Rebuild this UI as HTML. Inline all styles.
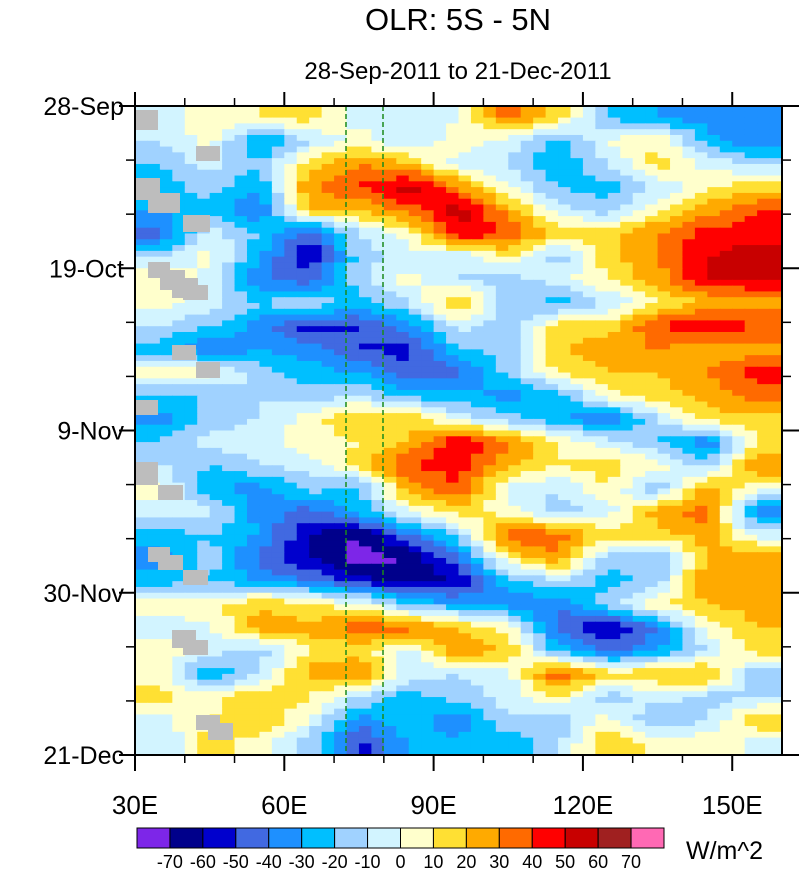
<!DOCTYPE html>
<html><head><meta charset="utf-8"><style>
body{margin:0;background:#fff;}
svg{display:block;font-family:"Liberation Sans",sans-serif;}
</style></head><body>
<svg id="chart" width="801" height="869" viewBox="0 0 801 869">
<text x="458" y="30" font-size="31" text-anchor="middle">OLR: 5S - 5N</text>
<text x="458" y="79" font-size="24" text-anchor="middle">28-Sep-2011 to 21-Dec-2011</text>
<g id="cells"></g>
<g id="missing"></g>
<line x1="346" y1="106" x2="346" y2="755" stroke="#1a8a1a" stroke-width="1.5" stroke-dasharray="5,3"/>
<line x1="383" y1="106" x2="383" y2="755" stroke="#1a8a1a" stroke-width="1.5" stroke-dasharray="5,3"/>
<rect x="135" y="106" width="647" height="649" fill="none" stroke="#000" stroke-width="2"/>
<g id="axes"></g>
<g id="cbar"></g>
<text x="686" y="859" font-size="25">W/m^2</text>
</svg>
<script>
const lons = [35,45,55,65,75,85,95,105,115,125,135,145,155];
const xTickLabels = ["30E","60E","90E","120E","150E"];
const xTickValues = [30,60,90,120,150];
const yTickLabels = ["28-Sep","19-Oct","9-Nov","30-Nov","21-Dec"];
const yTickDays = [0,21,42,63,84];
const levels = [-70,-60,-50,-40,-30,-20,-10,0,10,20,30,40,50,60,70];
const colors = ["#7d26e8","#00008b","#0000cd","#4169e1","#1e90ff","#00bfff","#a0d2ff","#d2f4ff","#ffffcc","#ffe033","#ffaa00","#ff6a00","#ff0000","#c80000","#a02020","#ff69b4"];
const r00=[-5,5,10,15,-5,-5,0,35,15,-20,-30,-35,-40];
const r01=[-10,5,-35,-10,5,-10,5,-5,-25,0,10,-25,-40];
const r02=[-20,-5,-20,15,30,20,-5,-10,-30,-10,15,-5,-10];
const r03=[-25,-15,-30,30,40,55,30,0,-20,-25,-10,10,15];
const r04=[-30,-25,-40,20,20,35,55,25,-5,-15,10,25,40];
const r05=[-45,-5,-20,-50,-10,5,50,40,15,15,30,45,45];
const r06=[-10,5,-30,-60,-15,-5,-10,10,-15,15,30,50,55];
const r07=[10,-5,-40,-45,-15,5,-10,-15,-5,10,25,50,50];
const r08=[5,-5,-20,-10,-25,-10,25,-15,-25,-10,10,20,25];
const r09=[-10,-20,-35,-55,-50,-35,-5,-20,15,15,40,50,40];
const r10=[-25,-40,-30,-35,-50,-55,-20,-15,20,25,30,20,25];
const r11=[5,5,-15,-25,-30,-45,-45,-15,10,20,20,30,45];
const r12=[-20,-20,-10,-15,-10,-25,-25,-35,-25,5,15,25,35];
const r13=[-35,-15,-10,5,20,20,-5,-15,-30,-40,-10,15,15];
const r14=[-20,-5,-5,5,10,20,50,30,10,-5,-20,-40,10];
const r15=[-10,-20,-10,-5,15,40,45,25,10,15,5,-15,30];
const r16=[5,-30,-35,-15,-25,25,40,-5,-10,10,-20,25,5];
const r17=[-5,-5,-35,-45,-25,0,15,5,-15,-5,25,35,-40];
const r18=[-25,-20,-30,-60,-70,-40,-15,40,35,15,15,25,-5];
const r19=[-35,-15,-45,-60,-75,-70,-40,10,30,-15,-20,20,30];
const r20=[-25,-20,-30,-40,-55,-65,-60,-25,-10,-25,-15,30,20];
const r21=[10,5,20,10,5,-20,-30,-35,-40,-15,10,20,25];
const r22=[-10,0,25,25,35,35,20,5,-45,-60,-40,5,20];
const r23=[10,-5,-15,10,15,-5,30,20,-25,-45,-30,-10,15];
const r24=[5,-30,-10,25,30,-5,-10,-5,40,15,20,25,-20];
const r25=[15,5,20,10,-10,-25,-15,-5,10,-15,-5,-15,-10];
const r26=[-5,10,20,0,-35,-20,-40,-10,-20,5,-20,-10,20];
const r27=[-10,15,5,-15,-55,-30,-25,-30,-10,20,5,10,-5];
const olr=[r00,r01,r02,r03,r04,r05,r06,r07,r08,r09,r10,r11,r12,r13,r14,r15,r16,r17,r18,r19,r20,r21,r22,r23,r24,r25,r26,r27];
const rowDays = 3;

const NS="http://www.w3.org/2000/svg";
const X0=135,X1=782,Y0=106,Y1=755,LON0=30,LON1=160,DAYS=84;
function xScale(lon){return X0+(lon-LON0)/(LON1-LON0)*(X1-X0);}
function yScale(day){return Y0+day/DAYS*(Y1-Y0);}
function colorFor(v){let k=0;while(k<levels.length&&v>=levels[k])k++;return colors[k];}
function mk(tag,attrs,parent){const e=document.createElementNS(NS,tag);for(const k in attrs)e.setAttribute(k,attrs[k]);parent.appendChild(e);return e;}

const nR=olr.length,nC=lons.length;
function sample(lon,day){
  let fc=(lon-lons[0])/10; let fr=(day-rowDays/2)/rowDays;
  fc=Math.max(0,Math.min(nC-1,fc)); fr=Math.max(0,Math.min(nR-1,fr));
  const c0=Math.floor(fc),r0=Math.floor(fr),c1=Math.min(nC-1,c0+1),r1=Math.min(nR-1,r0+1);
  const tc=fc-c0,tr=fr-r0;
  const a=olr[r0][c0]*(1-tc)+olr[r0][c1]*tc, b=olr[r1][c0]*(1-tc)+olr[r1][c1]*tc;
  return a*(1-tr)+b*tr;
}
const cells=document.getElementById('cells');
const sub=4, dLon=10/sub, dDay=rowDays/sub;
for(let day=0;day<DAYS-1e-6;day+=dDay){
  for(let lon=LON0;lon<LON1-1e-6;lon+=dLon){
    const v=sample(lon+dLon/2,day+dDay/2);
    const x=xScale(lon),y=yScale(day);
    const r=mk('rect',{x:x.toFixed(2),y:y.toFixed(2),width:(xScale(lon+dLon)-x+0.6).toFixed(2),height:(yScale(day+dDay)-y+0.6).toFixed(2),fill:colorFor(v)},cells);
    
    
  }
}
const miss=[[135,110,23,20],[196,146,24,15],[135,178,25,22],[148,193,32,20],[183,215,27,17],[148,262,22,16],[160,270,25,20],[172,278,26,20],[183,285,25,15],[172,345,24,15],[196,362,24,16],[135,400,23,15],[135,462,23,23],[158,485,25,15],[148,547,22,15],[158,555,25,15],[183,570,25,15],[172,630,24,18],[183,640,25,15],[196,715,24,15],[208,723,25,17]];
const mg=document.getElementById('missing');
for(const m of miss){
  const r=mk('rect',{x:m[0],y:m[1],width:m[2],height:m[3],fill:"#bdbdbd"},mg);
  
  
}
const ax=document.getElementById('axes');
xTickValues.forEach((lon,i)=>{
  const x=xScale(lon);
  mk('line',{x1:x,y1:Y1,x2:x,y2:Y1+16,stroke:"#000","stroke-width":2},ax);
  mk('line',{x1:x,y1:Y0,x2:x,y2:Y0-14,stroke:"#000","stroke-width":2},ax);
  const t=mk('text',{x:x,y:814,"font-size":26,"text-anchor":"middle"},ax);
  t.textContent=xTickLabels[i];
  
  
});
for(let lon=40;lon<160;lon+=10){ if(lon%30===0)continue;
  const x=xScale(lon);
  mk('line',{x1:x,y1:Y1,x2:x,y2:Y1+8,stroke:"#000","stroke-width":1.5},ax);
  mk('line',{x1:x,y1:Y0,x2:x,y2:Y0-8,stroke:"#000","stroke-width":1.5},ax);
}
yTickDays.forEach((d,i)=>{
  const y=yScale(d);
  mk('line',{x1:X0-16,y1:y,x2:X0,y2:y,stroke:"#000","stroke-width":2},ax);
  mk('line',{x1:X1,y1:y,x2:X1+17,y2:y,stroke:"#000","stroke-width":2},ax);
  const t=mk('text',{x:124,y:y+9,"font-size":25,"text-anchor":"end"},ax);
  t.textContent=yTickLabels[i];
  
  
});
for(let d=7;d<84;d+=7){ if(d%21===0)continue;
  const y=yScale(d);
  mk('line',{x1:X0-9,y1:y,x2:X0,y2:y,stroke:"#000","stroke-width":1.5},ax);
  mk('line',{x1:X1,y1:y,x2:X1+9,y2:y,stroke:"#000","stroke-width":1.5},ax);
}
const cb=document.getElementById('cbar');
const CB0=137,CB1=664,bw=(CB1-CB0)/colors.length;
colors.forEach((c,i)=>{
  const r=mk('rect',{x:CB0+i*bw,y:828,width:bw,height:20,fill:c,stroke:"#000","stroke-width":1},cb);
  
  
});
levels.forEach((l,i)=>{
  const t=mk('text',{x:CB0+(i+1)*bw,y:868,"font-size":18,"text-anchor":"middle"},cb);
  t.textContent=l;
  
  
});
</script>
</body></html>
